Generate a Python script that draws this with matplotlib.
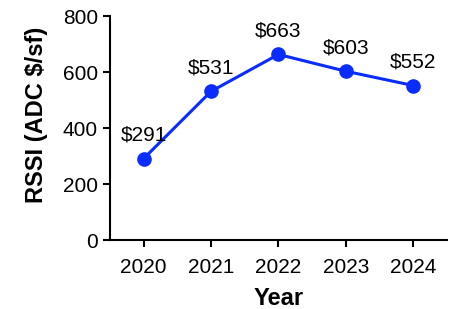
import matplotlib
matplotlib.use('Agg')
import matplotlib.pyplot as plt

years = [2020, 2021, 2022, 2023, 2024]
rssi = [291, 531, 663, 603, 552]
labels = ['$291', '$531', '$663', '$603', '$552']

plt.rcParams['font.family'] = ['Liberation Sans', 'DejaVu Sans']

fig = plt.figure(figsize=(4.56, 3.09), dpi=100)
ax = fig.add_axes([0.241, 0.223, 0.739, 0.725])

blue = '#0a2cff'
ax.plot(years, rssi, color=blue, lw=2.2, marker='o', markersize=9.5)
for x, y, s in zip(years, rssi, labels):
    ax.annotate(s.replace('$', r'\$'), (x, y), xytext=(0, 10), textcoords='offset points',
                ha='center', va='bottom', fontsize=15)

ax.set_xlim(2019.5, 2024.5)
ax.set_ylim(0, 800)
ax.set_xticks(years)
ax.set_yticks([0, 200, 400, 600, 800])
ax.tick_params(labelsize=15, width=1.5, length=5)
ax.tick_params(axis='x', pad=8)
for side in ['top', 'right']:
    ax.spines[side].set_visible(False)
for side in ['left', 'bottom']:
    ax.spines[side].set_linewidth(1.5)

ax.set_xlabel('Year', fontsize=17, fontweight='bold', labelpad=7)
ax.set_ylabel('RSSI (ADC $/sf)', fontsize=17, fontweight='bold')
ax.yaxis.set_label_coords(-0.185, 0.56)

fig.savefig('out.png', dpi=100)
